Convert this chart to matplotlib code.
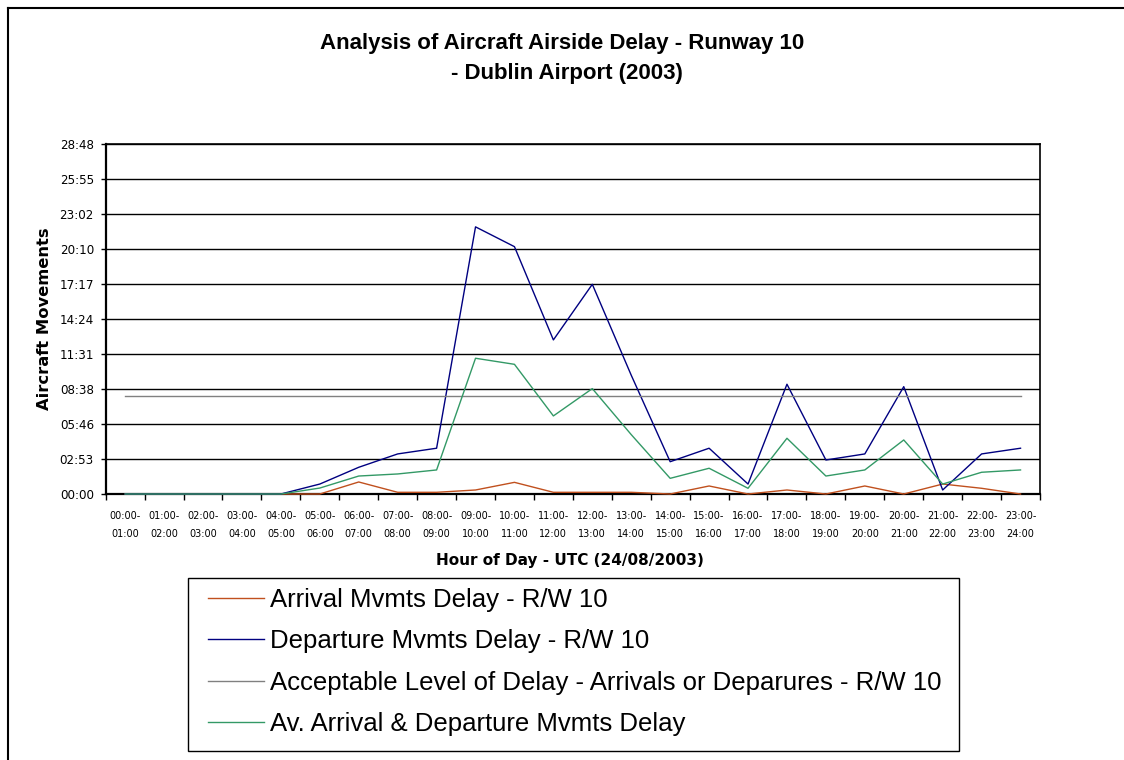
import matplotlib
matplotlib.use("Agg")
import matplotlib.pyplot as plt
from matplotlib.ticker import FuncFormatter, FixedLocator
from matplotlib.lines import Line2D
from matplotlib.patches import Rectangle
import numpy as np

# ---------------- data ----------------
hours = ["00:00-\n01:00", "01:00-\n02:00", "02:00-\n03:00", "03:00-\n04:00",
         "04:00-\n05:00", "05:00-\n06:00", "06:00-\n07:00", "07:00-\n08:00",
         "08:00-\n09:00", "09:00-\n10:00", "10:00-\n11:00", "11:00-\n12:00",
         "12:00-\n13:00", "13:00-\n14:00", "14:00-\n15:00", "15:00-\n16:00",
         "16:00-\n17:00", "17:00-\n18:00", "18:00-\n19:00", "19:00-\n20:00",
         "20:00-\n21:00", "21:00-\n22:00", "22:00-\n23:00", "23:00-\n24:00"]

# delays in minutes
arrival_delay = [0, 0, 0, 0, 0, 0, 0.99, 0.14, 0.14, 0.33, 0.96, 0.14,
                 0.14, 0.14, 0, 0.66, 0, 0.33, 0, 0.66, 0, 0.82, 0.47, 0]
departure_delay = [0, 0, 0, 0, 0, 0.82, 2.2, 3.3, 3.77, 22.0, 20.37, 12.69,
                   17.27, 9.78, 2.66, 3.77, 0.82, 9.04, 2.8, 3.3, 8.84, 0.33, 3.3, 3.77]
acceptable_delay = [8.05] * 24
average_delay = [0, 0, 0, 0, 0, 0.49, 1.48, 1.65, 1.98, 11.18, 10.68, 6.43,
                 8.68, 4.89, 1.29, 2.12, 0.47, 4.59, 1.48, 1.98, 4.45, 0.82, 1.79, 1.98]

y_ticks_min = [0, 2.88, 5.76, 8.64, 11.52, 14.4, 17.28, 20.16, 23.04, 25.92, 28.8]

labels = ["Arrival Mvmts Delay - R/W 10",
          "Departure Mvmts Delay - R/W 10",
          "Acceptable Level of Delay - Arrivals or Deparures - R/W 10",
          "Av. Arrival & Departure Mvmts Delay"]
colors = ["#C0501E", "#000080", "#808080", "#339966"]

# ---------------- figure ----------------
W, H = 1124, 760
fig = plt.figure(figsize=(W / 100, H / 100), dpi=100)
fig.patch.set_facecolor("white")

ax = fig.add_axes([105.7 / W, 1 - 494 / H, (1040 - 105.7) / W, (494 - 144.3) / H])
x = np.arange(len(hours))

series = [arrival_delay, departure_delay, acceptable_delay, average_delay]
for vals, lab, col in zip(series, labels, colors):
    ax.plot(x, vals, color=col, lw=1.0, label=lab, zorder=3, clip_on=False)

ax.set_xlim(-0.5, len(hours) - 0.5)
ax.set_ylim(0, 28.8)

def fmt(v, pos):
    s = int(round(v * 60))
    return f"{s // 60:02d}:{s % 60:02d}"

ax.yaxis.set_major_locator(FixedLocator(y_ticks_min))
ax.yaxis.set_major_formatter(FuncFormatter(fmt))
ax.tick_params(axis="y", direction="out", length=3.5, width=1, pad=5,
               labelsize=8.6, colors="black")

ax.set_xticks(x)
ax.set_xticklabels(hours, fontsize=7, linespacing=2.0)
ax.tick_params(axis="x", which="major", length=0, pad=12)
ax.set_xticks(np.arange(-0.5, len(hours), 1.0), minor=True)
ax.tick_params(axis="x", which="minor", direction="out", length=4, width=1)

ax.grid(axis="y", color="black", lw=1.0, zorder=1)
ax.set_axisbelow(True)
for side in ["left", "bottom"]:
    ax.spines[side].set_linewidth(1.6)
for side in ["top", "right"]:
    ax.spines[side].set_linewidth(1.2)

# titles and labels
fig.text(562 / W, 1 - 44 / H, "Analysis of Aircraft Airside Delay - Runway 10",
         ha="center", va="center", fontsize=16, fontweight="bold",
         family="Liberation Sans")
fig.text(567 / W, 1 - 74 / H, "- Dublin Airport (2003)",
         ha="center", va="center", fontsize=16, fontweight="bold",
         family="Liberation Sans")
fig.text(570 / W, 1 - 561 / H, "Hour of Day - UTC (24/08/2003)",
         ha="center", va="center", fontsize=11, fontweight="bold")
fig.text(45 / W, 1 - 319 / H, "Aircraft Movements", rotation=90,
         ha="center", va="center", fontsize=11.8, fontweight="heavy")

# legend frame + entries
fig.add_artist(Rectangle((188 / W, 1 - 751 / H), (959 - 188) / W, (751 - 578) / H,
                         transform=fig.transFigure, facecolor="white",
                         edgecolor="black", lw=1.0, zorder=2))
leg = ax.legend(loc="upper left", bbox_to_anchor=(208 / W, 1 - 588 / H),
                bbox_transform=fig.transFigure, borderaxespad=0,
                prop={"family": "Liberation Sans", "size": 18.5},
                handlelength=2.18, handletextpad=0.23, labelspacing=0.68,
                borderpad=0, frameon=False)
leg.set_zorder(3)
fig.legends.append(leg)

# outer chart border (top and left visible)
fig.add_artist(Line2D([8 / W, 1], [1 - 8 / H, 1 - 8 / H], transform=fig.transFigure,
                      color="black", lw=1.5))
fig.add_artist(Line2D([8 / W, 8 / W], [0, 1 - 8 / H], transform=fig.transFigure,
                      color="black", lw=1.5))

fig.savefig("out.png", dpi=100, facecolor="white")
